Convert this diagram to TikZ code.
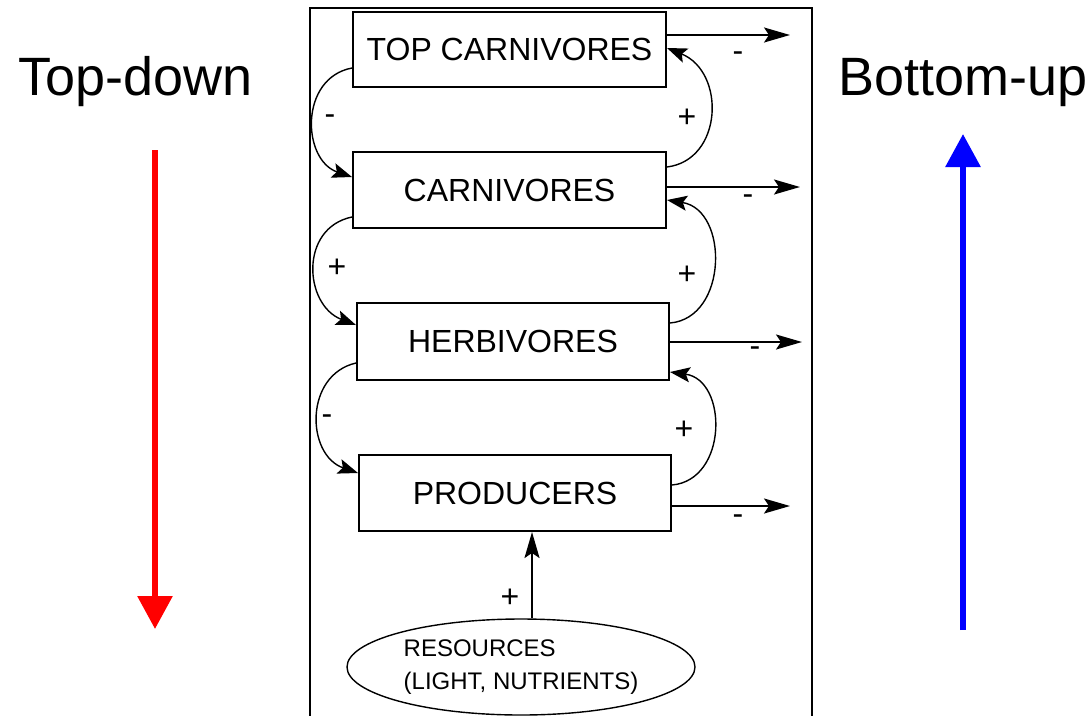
\documentclass[tikz,border=0pt]{standalone}
\usepackage{fontspec}
\setmainfont{Liberation Sans}
\usetikzlibrary{arrows.meta,shapes.geometric,calc}
\begin{document}
\begin{tikzpicture}[x=1pt,y=1pt,
 box/.style={draw,line width=2pt,rectangle,inner sep=0pt,font=\fontsize{32}{36}\selectfont},
 lbl/.style={font=\fontsize{32}{36}\selectfont,inner sep=0pt},
 link/.style={line width=1.4pt,-{Stealth[length=20pt,width=15pt,inset=4pt]}},
 outarr/.style={line width=2pt,-{Stealth[length=26pt,width=15pt,inset=5pt]}},
 big/.style={font=\fontsize{54}{60}\selectfont,inner sep=0pt,anchor=base west},
 trend/.style={line width=6pt,-{Triangle[length=33pt,width=34pt]}}
]
\useasboundingbox (0,0) rectangle (1091,-715);
\fill[white] (0,0) rectangle (1091,-715);
\draw[line width=2pt] (310,-740) -- (310,-8) -- (812,-8) -- (812,-740);

% boxes
\node[box,minimum width=313pt,minimum height=75pt] (top) at (509.5,-49.5) {TOP CARNIVORES};
\node[box,minimum width=313pt,minimum height=76pt] (carn) at (509.5,-190) {CARNIVORES};
\node[box,minimum width=312pt,minimum height=77pt] (herb) at (513,-341.5) {HERBIVORES};
\node[box,minimum width=312pt,minimum height=76pt] (prod) at (515,-493) {PRODUCERS};
\node[ellipse,draw,line width=1.4pt,minimum width=348pt,minimum height=96pt,inner sep=0pt,align=left,font=\fontsize{24}{33}\selectfont] (res) at (521,-667) {RESOURCES\\(LIGHT, NUTRIENTS)};

% left (top-down) links
\coordinate (l1s) at ([yshift=-18.5pt]top.west);
\coordinate (l1e) at ([yshift=13pt]carn.west);
\coordinate (l2s) at ([yshift=-27pt]carn.west);
\coordinate (l2e) at ([yshift=16.5pt]herb.west);
\coordinate (l3s) at ([yshift=-21.5pt]herb.west);
\coordinate (l3e) at ([yshift=20pt]prod.west);
\draw[link] (l1s) .. controls ($(l1s)+(-53,-10)$) and ($(l1e)+(-50,17)$) .. (l1e);
\draw[link] (l2s) .. controls ($(l2s)+(-53,-11)$) and ($(l2e)+(-52,20)$) .. (l2e);
\draw[link] (l3s) .. controls ($(l3s)+(-52,-12)$) and ($(l3e)+(-52,18)$) .. (l3e);

% right (bottom-up) links
\coordinate (r1s) at ([yshift=23pt]carn.east);
\coordinate (r1e) at ([yshift=1.5pt]top.east);
\coordinate (r2s) at ([yshift=18.5pt]herb.east);
\coordinate (r2e) at ([yshift=-10pt]carn.east);
\coordinate (r3s) at ([yshift=8pt]prod.east);
\coordinate (r3e) at ([yshift=-30.5pt]herb.east);
\draw[link] (r1s) .. controls ($(r1s)+(56,7)$) and ($(r1e)+(59,-24)$) .. (r1e);
\draw[link] (r2s) .. controls ($(r2s)+(58,5)$) and ($(r2e)+(62,-10)$) .. (r2e);
\draw[link] (r3s) .. controls ($(r3s)+(56,5)$) and ($(r3e)+(58,-8)$) .. (r3e);

% outgoing losses
\coordinate (o1) at (790,-35);
\coordinate (o2) at (800,-187);
\coordinate (o3) at (802,-342);
\coordinate (o4) at (790,-506);
\draw[outarr] ([yshift=14.5pt]top.east) -- (o1);
\draw[outarr] ([yshift=3pt]carn.east) -- (o2);
\draw[outarr] ([yshift=-0.5pt]herb.east) -- (o3);
\draw[outarr] ([yshift=-13pt]prod.east) -- (o4);

% resources
\draw[outarr] ([xshift=11pt]res.north) -- ([xshift=17pt]prod.south);

% signs
\node[lbl] (sl1) at (330,-120) {-};
\node[lbl] (sl2) at (337,-268) {+};
\node[lbl] (sl3) at (327,-420) {-};
\node[lbl] (sr1) at (687,-118) {+};
\node[lbl] (sr2) at (687,-275) {+};
\node[lbl] (sr3) at (684,-430) {+};
\node[lbl] (so1) at (738,-57) {-};
\node[lbl] (so2) at (748,-200) {-};
\node[lbl] (so3) at (755,-352) {-};
\node[lbl] (so4) at (738,-520) {-};
\node[lbl] (sres) at (510,-598) {+};

% side labels and trend arrows
\node[big] (td) at (18,-95) {Top-down};
\node[big] (bu) at (838,-95) {Bottom-up};
\coordinate (tdS) at (155,-150);
\coordinate (tdE) at (155,-629);
\coordinate (buS) at (963,-630);
\coordinate (buE) at (963,-134);
\draw[trend,red] (tdS) -- (tdE);
\draw[trend,blue] (buS) -- (buE);
\end{tikzpicture}
\end{document}
